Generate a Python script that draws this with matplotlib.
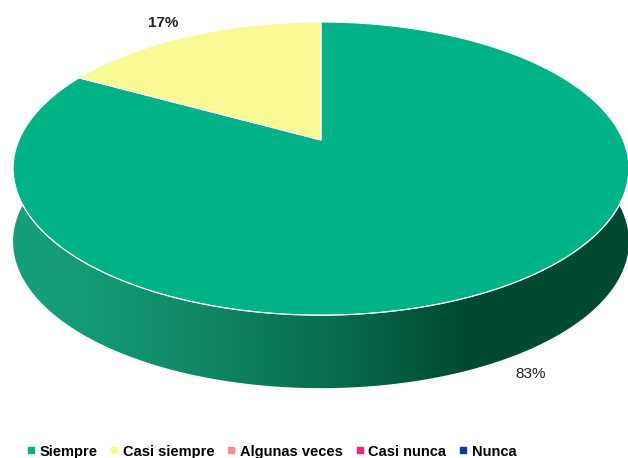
import numpy as np
import matplotlib.pyplot as plt
from matplotlib.patches import Polygon
from matplotlib.lines import Line2D
from matplotlib.colors import to_rgb

plt.rcParams["font.family"] = ["Liberation Sans", "DejaVu Sans"]

categories = ["Siempre", "Casi siempre", "Algunas veces", "Casi nunca", "Nunca"]
values = [83, 17, 0, 0, 0]
colors = ["#00b386", "#f9f996", "#ff8c86", "#ff1f74", "#0b3c9c"]
labels = ["83%", "17%"]

# perspective disc, in pixels: x = X0 + A*u/w, y = Y0 - B*v/w, w = 1 + k*v
X0, Y0, A, B, k, depth = 321, 140, 302, 141, 0.195, 73
side_left = np.array(to_rgb("#16a07a"))
side_right = np.array(to_rgb("#004a32"))


def edge(theta):
    u, v = np.cos(theta), np.sin(theta)
    w = 1 + k * v
    return X0 + A * u / w, Y0 - B * v / w


fig = plt.figure(figsize=(6.28, 4.58), dpi=100)
ax = fig.add_axes([0, 0, 1, 1])
ax.set_xlim(0, 628)
ax.set_ylim(458, 0)
ax.axis("off")

# slice angles: start at 12 o'clock, clockwise
total = sum(values)
starts, ends = [], []
a = np.pi / 2
for v in values:
    starts.append(a)
    a -= 2 * np.pi * v / total
    ends.append(a)

# side of the pie: extruded front rim filled with a left-to-right gradient
th = np.linspace(np.pi - 0.4, 2 * np.pi + 0.4, 400)
xs, ys = edge(th)
xs_b, ys_b = xs[::-1], ys[::-1] + depth
side = Polygon(list(zip(xs, ys)) + list(zip(xs_b, ys_b)), closed=True,
               facecolor="none", edgecolor="none")
ax.add_patch(side)
gx = np.linspace(0, 628, 629)
f = np.clip((gx - 15) / (465 - 15), 0, 1) ** 1.4
grad = side_left[None, :] + (side_right - side_left)[None, :] * f[:, None]
ax.imshow(grad[None, :, :], extent=(0, 628, 400, 100), aspect="auto",
          interpolation="bilinear", clip_path=side, zorder=1)

# top face
for s, e, col, v in zip(starts, ends, colors, values):
    if v == 0:
        continue
    t = np.linspace(s, e, 300)
    px, py = edge(t)
    pts = [(X0, Y0)] + list(zip(px, py))
    ax.add_patch(Polygon(pts, closed=True, facecolor=col, edgecolor="white",
                         lw=0.8, zorder=2))

# thin highlight along the front rim
t = np.linspace(np.pi * 1.07, np.pi * 1.93, 200)
px, py = edge(t)
ax.plot(px, py, color="white", lw=0.8, alpha=0.8, zorder=3)

ax.text(531, 374, labels[0], ha="center", va="center", fontsize=11, color="#222222")
ax.text(163, 23, labels[1], ha="center", va="center", fontsize=11, fontweight="bold",
        color="#222222")

handles = [Line2D([], [], marker="s", linestyle="none", markersize=5,
                  markerfacecolor=c, markeredgecolor=c) for c in colors]
leg = fig.legend(handles, categories, loc="center", bbox_to_anchor=(0.432, 0.014),
                 ncol=5, frameon=False, handlelength=0.6, handletextpad=0.3,
                 columnspacing=0.85, prop={"size": 10.5, "weight": "bold"})

ax.set_xlim(0, 628)
ax.set_ylim(458, 0)
fig.savefig("out.png", dpi=100)
